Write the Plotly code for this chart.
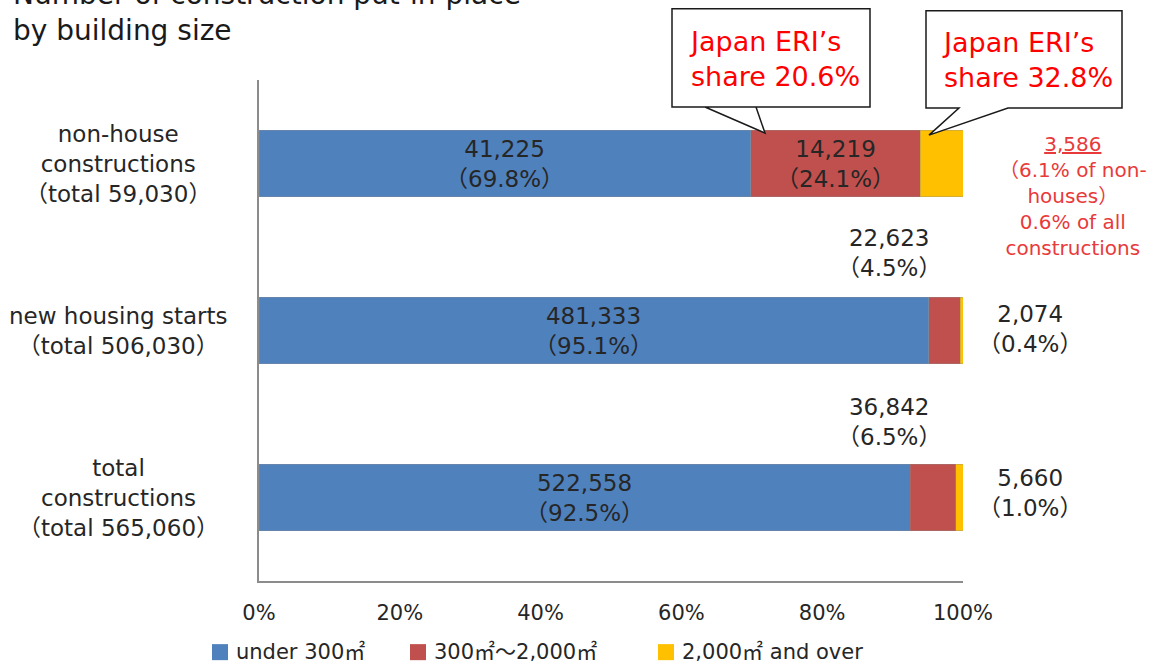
import plotly.graph_objects as go

categories = ["non-house", "housing", "total"]
cat_labels = ["non-house<br>constructions<br>（total 59,030）",
              "new housing starts<br>（total 506,030）",
              "total<br>constructions<br>（total 565,060）"]
under300 = [41225, 481333, 522558]
mid300_2000 = [14219, 22623, 36842]
over2000 = [3586, 2074, 5660]
pct_under = [69.8, 95.1, 92.5]
pct_mid = [24.1, 4.5, 6.5]
pct_over = [6.1, 0.4, 1.0]
series_names = ["under 300㎡", "300㎡〜2,000㎡", "2,000㎡ and over"]
colors = ["#4F81BD", "#C0504D", "#FFC000"]
x_ticks = [0, 20, 40, 60, 80, 100]
x_ticktext = ["0%", "20%", "40%", "60%", "80%", "100%"]

FONT = "DejaVu Sans, Noto Sans CJK JP, sans-serif"
TXT = "#262626"
LBL = 23

fig = go.Figure()
for name, vals, col in zip(series_names, [under300, mid300_2000, over2000], colors):
    fig.add_trace(go.Bar(
        y=categories, x=vals, name=name, orientation="h",
        marker=dict(color=col, line=dict(width=0.6, color="rgba(140,140,140,0.6)")),
        width=0.4, hoverinfo="skip", showlegend=False))

ann = []
C = dict(showarrow=False, xanchor="center", yanchor="middle", align="center")
# blue labels, centred in blue segments
for c, v, p in zip(categories, under300, pct_under):
    ann.append(dict(x=p / 2, y=c, xref="x", yref="y", text=f"{v:,}<br>（{p}%）",
                    font=dict(size=LBL, color=TXT), **C))
# red segment: inside for non-house, above for others
ann.append(dict(x=pct_under[0] + pct_mid[0] / 2, y=categories[0], xref="x", yref="y",
                text=f"{mid300_2000[0]:,}<br>（{pct_mid[0]}%）",
                font=dict(size=LBL, color=TXT), **C))
for i, sh in [(1, 78), (2, 76)]:
    ann.append(dict(x=89.5, y=categories[i], xref="x", yref="y", yshift=sh,
                    text=f"{mid300_2000[i]:,}<br>（{pct_mid[i]}%）",
                    font=dict(size=LBL, color=TXT), **C))
# yellow labels to the right (paper coords, beyond the 100% edge)
for i, sh in [(1, 2), (2, 5)]:
    ann.append(dict(x=1.095, y=categories[i], xref="paper", yref="y", yshift=sh,
                    text=f"{over2000[i]:,}<br>（{pct_over[i]}%）",
                    font=dict(size=LBL, color=TXT), **C))
# red note for non-house
ann.append(dict(x=(1073 - 259) / 704, y=categories[0], xref="paper", yref="y", yshift=-32,
                text=f"<u>{over2000[0]:,}</u><br>（{pct_over[0]}% of non-<br>houses）<br>0.6% of all<br>constructions",
                font=dict(size=20, color="#E83A3A"), **C))
# category labels
for c, lab in zip(categories, cat_labels):
    ann.append(dict(x=-0.2, y=c, xref="paper", yref="y", text=lab,
                    font=dict(size=LBL, color=TXT), **C))

def px2p(x, y):
    return ((x - 259) / 704, (581 - y) / 500)

# title
tx, ty = px2p(11, 50)
ann.append(dict(x=tx, y=ty, xref="paper", yref="paper", xanchor="left", yanchor="bottom",
                text="Number of construction put-in-place<br>by building size", align="left",
                showarrow=False, font=dict(size=28, color="#1a1a1a")))

# callouts
shapes = []
callouts = [
    ((672, 870, 10, 108), [(705, 108), (765, 134), (756, 108)], "Japan ERI’s<br>share 20.6%"),
    ((926, 1122, 12, 109), [(1008, 109), (929, 136), (959, 109)], "Japan ERI’s<br>share 32.8%"),
]
for (l, r, t, b), tail, text in callouts:
    pts = [(l, t), (r, t), (r, b), tail[0], tail[1], tail[2], (l, b)]
    path = "M " + " L ".join(f"{px2p(x, y)[0]:.5f},{px2p(x, y)[1]:.5f}" for x, y in pts) + " Z"
    shapes.append(dict(type="path", xref="paper", yref="paper", path=path,
                       fillcolor="white", line=dict(color="#1a1a1a", width=1.5)))
    cx, cy = px2p((l + r) / 2 + 3, (t + b) / 2 + 1)
    ann.append(dict(x=cx, y=cy, xref="paper", yref="paper", text=text, showarrow=False,
                    xanchor="center", yanchor="middle", align="left",
                    font=dict(size=27, color="#FF0000")))

# legend drawn as swatches + labels
legend_x = [212, 410, 658]
for lx, name, col in zip(legend_x, series_names, colors):
    x0, y0 = px2p(lx, 660)
    x1, y1 = px2p(lx + 16, 644)
    shapes.append(dict(type="rect", xref="paper", yref="paper", x0=x0, y0=y0, x1=x1, y1=y1,
                       fillcolor=col, line=dict(width=0)))
    tx_, ty_ = px2p(lx + 22, 652)
    ann.append(dict(x=tx_, y=ty_, xref="paper", yref="paper", text=name, showarrow=False,
                    xanchor="left", yanchor="middle", font=dict(size=21, color=TXT)))

fig.update_layout(
    barmode="stack", barnorm="percent",
    width=1150, height=664,
    margin=dict(l=259, r=187, t=80, b=83, autoexpand=False),
    plot_bgcolor="white", paper_bgcolor="white",
    font=dict(family=FONT, size=20, color=TXT),
    showlegend=False,
    xaxis=dict(range=[0, 100], tickvals=x_ticks, ticktext=x_ticktext, showgrid=False,
               showline=True, linecolor="#8c8c8c", linewidth=2, zeroline=False,
               ticks="", tickfont=dict(size=21, color=TXT), ticklabelstandoff=12),
    yaxis=dict(categoryorder="array", categoryarray=categories, autorange="reversed",
               range=[2.5, -0.5], showticklabels=False, showgrid=False, showline=True,
               linecolor="#8c8c8c", linewidth=2, zeroline=False, ticks=""),
    annotations=ann, shapes=shapes,
)
fig.write_html("out.html")
